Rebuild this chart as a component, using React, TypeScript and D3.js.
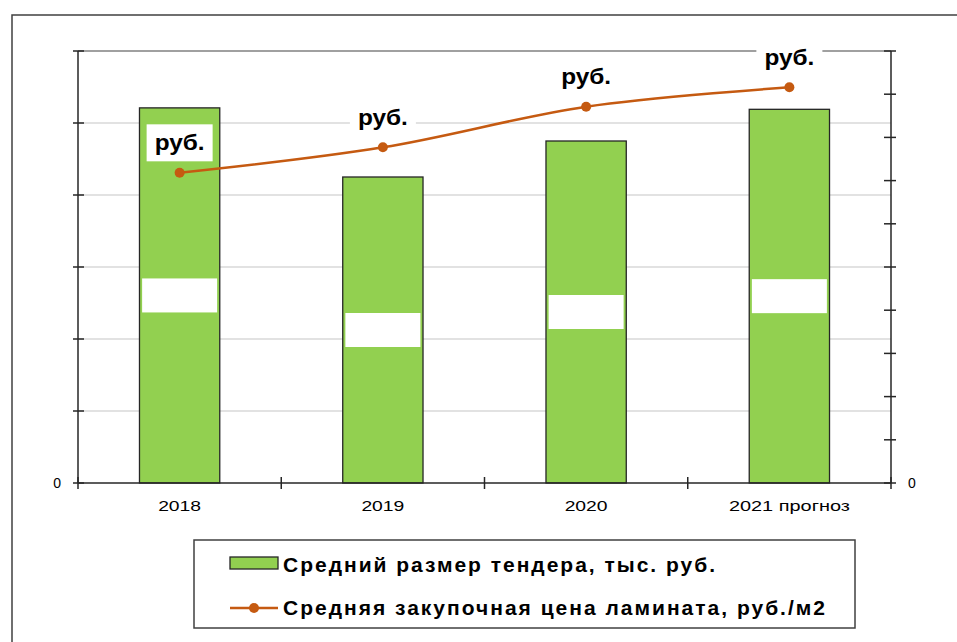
import React from "react";
import * as d3 from "d3";

const categories = ["2018", "2019", "2020", "2021 прогноз"];
const tenderSize = [5.21, 4.25, 4.75, 5.19];
const laminatePrice = [7.18, 7.77, 8.71, 9.16];
const leftTicks = [0, 1, 2, 3, 4, 5, 6];
const rightTicks = [0, 1, 2, 3, 4, 5, 6, 7, 8, 9, 10];
const leftTickLabels = ["0", "", "", "", "", "", ""];
const pointLabel = "руб.";
const legendLabels = [
  "Средний размер тендера, тыс. руб.",
  "Средняя закупочная цена ламината, руб./м2",
];

const W = 957;
const H = 642;
const plot = { left: 78, right: 891, top: 51, bottom: 483 };
const FONT = "'Liberation Sans', Arial, sans-serif";
const GREEN = "#92D050";
const ORANGE = "#C55A11";

export default function App() {
  const x = d3
    .scaleBand<string>()
    .domain(categories)
    .range([plot.left, plot.right])
    .padding(0);
  const bw = x.bandwidth();
  const barW = bw * 0.395;
  const yL = d3.scaleLinear().domain([0, 6]).range([plot.bottom, plot.top]);
  const yR = d3.scaleLinear().domain([0, 10]).range([plot.bottom, plot.top]);
  const cx = (c: string) => (x(c) as number) + bw / 2;

  const line = d3
    .line<number>()
    .x((_, i) => cx(categories[i]))
    .y((d) => yR(d))
    .curve(d3.curveCatmullRom.alpha(0.5));

  const boundaries = categories.map((c) => x(c) as number).concat([plot.right]);
  const catLen = (c: string) => (c.length > 4 ? 121 : 43);

  return (
    <svg
      width={W}
      height={H}
      style={{ position: "absolute", left: 0, top: 0, background: "#fff" }}
      fontFamily={FONT}
    >
      {/* outer frame */}
      <rect x={12} y={15} width={W + 20} height={H + 20} fill="#fff" stroke="#404040" strokeWidth={1.5} />

      {/* gridlines */}
      {leftTicks.slice(1, -1).map((t) => (
        <line key={"g" + t} x1={plot.left} x2={plot.right} y1={yL(t)} y2={yL(t)} stroke="#d9d9d9" strokeWidth={1.3} />
      ))}
      <line x1={plot.left} x2={plot.right} y1={plot.top} y2={plot.top} stroke="#808080" strokeWidth={1.3} />

      {/* bars */}
      {categories.map((c, i) => (
        <rect
          key={"b" + c}
          x={cx(c) - barW / 2}
          y={yL(tenderSize[i])}
          width={barW}
          height={plot.bottom - yL(tenderSize[i])}
          fill={GREEN}
          stroke="#262626"
          strokeWidth={1.3}
        />
      ))}
      {/* bar data label boxes */}
      {categories.map((c, i) => {
        const my = (yL(tenderSize[i]) + plot.bottom) / 2;
        return <rect key={"bl" + c} x={cx(c) - 37.5} y={my - 17} width={75} height={34} fill="#fff" />;
      })}

      {/* axes */}
      <line x1={plot.left} x2={plot.left} y1={plot.top} y2={plot.bottom} stroke="#262626" strokeWidth={1.5} />
      <line x1={plot.right} x2={plot.right} y1={plot.top} y2={plot.bottom} stroke="#262626" strokeWidth={1.5} />
      <line x1={plot.left} x2={plot.right} y1={plot.bottom} y2={plot.bottom} stroke="#262626" strokeWidth={1.5} />
      {leftTicks.map((t) => (
        <line key={"lt" + t} x1={plot.left - 5} x2={plot.left + 6} y1={yL(t)} y2={yL(t)} stroke="#262626" strokeWidth={1.5} />
      ))}
      {rightTicks.map((t) => (
        <line key={"rt" + t} x1={plot.right - 7} x2={plot.right + 5} y1={yR(t)} y2={yR(t)} stroke="#262626" strokeWidth={1.5} />
      ))}
      {boundaries.map((b, i) => (
        <line key={"xt" + i} x1={b} x2={b} y1={plot.bottom - 6} y2={plot.bottom + 6} stroke="#262626" strokeWidth={1.5} />
      ))}
      {leftTicks.map((t, i) =>
        leftTickLabels[i] ? (
          <text key={"ll" + t} x={61} y={yL(t)} dy="0.35em" textAnchor="end" fontSize={14} fill="#000">
            {leftTickLabels[i]}
          </text>
        ) : null
      )}
      <text x={908} y={yR(0)} dy="0.35em" textAnchor="start" fontSize={14} fill="#000">
        0
      </text>
      {categories.map((c) => (
        <text
          key={"xl" + c}
          x={cx(c) - catLen(c) / 2}
          y={511}
          fontSize={14}
          fill="#000"
          textLength={catLen(c)}
          lengthAdjust="spacingAndGlyphs"
        >
          {c}
        </text>
      ))}

      {/* line */}
      <path d={line(laminatePrice) || ""} fill="none" stroke={ORANGE} strokeWidth={2.5} />
      {laminatePrice.map((v, i) => (
        <circle key={"p" + i} cx={cx(categories[i])} cy={yR(v)} r={5} fill={ORANGE} />
      ))}
      {laminatePrice.map((v, i) => {
        const px = cx(categories[i]);
        const py = yR(v) - 30;
        return (
          <g key={"pl" + i}>
            <rect x={px - 33} y={py - 18.5} width={66} height={37} fill="#fff" />
            <text
              x={px - 25}
              y={py + 7.5}
              fontSize={22}
              fontWeight="bold"
              fill="#000"
              textLength={50}
              lengthAdjust="spacingAndGlyphs"
            >
              {pointLabel}
            </text>
          </g>
        );
      })}

      {/* legend */}
      <rect x={194} y={540} width={661} height={88} fill="#fff" stroke="#404040" strokeWidth={1.5} />
      <rect x={230} y={557} width={48} height={12} fill={GREEN} stroke="#262626" strokeWidth={1.3} />
      <text x={283} y={572} fontSize={21} fontWeight="bold" fill="#000" textLength={432} lengthAdjust="spacing">
        {legendLabels[0]}
      </text>
      <line x1={230} x2={278} y1={608} y2={608} stroke={ORANGE} strokeWidth={2.5} />
      <circle cx={254} cy={608} r={5} fill={ORANGE} />
      <text x={283} y={615} fontSize={21} fontWeight="bold" fill="#000" textLength={542} lengthAdjust="spacing">
        {legendLabels[1]}
      </text>
    </svg>
  );
}
